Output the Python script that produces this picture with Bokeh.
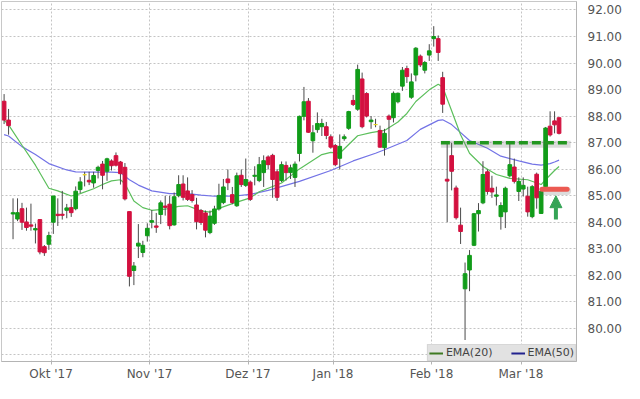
from bokeh.plotting import figure
from bokeh.models import (Range1d, FixedTicker, ColumnDataSource, Legend, LegendItem,
                          Arrow, NormalHead)
from bokeh.embed import file_html
from bokeh.resources import INLINE

# ---------------- data ----------------
opens = [88.56, 87.85, 84.31, 84.12, 84.51, 84.01, 83.90, 83.71, 84.10, 83.08,
         83.17, 84.00, 84.30, 84.30, 84.45, 84.55, 84.51, 85.23, 85.79, 85.58,
         85.48, 85.95, 86.19, 85.92, 86.31, 86.51, 86.27, 86.07, 84.40, 82.18,
         83.10, 82.86, 83.49, 84.00, 83.86, 84.29, 84.61, 84.68, 83.90, 85.00,
         85.44, 85.18, 85.04, 84.65, 84.44, 84.35, 83.61, 83.96, 84.50, 84.74,
         85.63, 85.04, 84.62, 85.77, 85.39, 85.51, 85.73, 85.57, 85.87, 86.46,
         86.52, 85.90, 85.57, 86.14, 85.87, 85.69, 86.59, 87.99, 88.56, 87.07,
         87.49, 87.60, 87.60, 87.22, 86.89, 86.41, 87.15, 87.54, 88.59, 88.26,
         89.40, 88.85, 87.79, 87.68, 87.46, 86.81, 88.00, 87.94, 88.54, 89.13,
         89.79, 88.71, 89.55, 90.26, 89.73, 90.30, 90.92, 90.92, 89.45, 85.62,
         86.51, 85.29, 83.89, 81.49, 82.20, 83.13, 84.32, 84.73, 85.90, 85.28,
         84.98, 84.21, 84.39, 85.75, 86.08, 85.16, 85.25, 84.98, 84.21, 85.81,
         84.33, 85.34, 87.62, 87.82, 87.94]
highs = [88.83, 88.27, 84.90, 84.90, 84.73, 84.55, 84.70, 83.95, 84.10, 83.14,
         83.64, 84.99, 84.90, 85.18, 84.69, 84.87, 85.35, 85.70, 85.90, 85.90,
         85.90, 86.13, 86.31, 86.43, 86.37, 86.63, 86.31, 86.23, 84.40, 82.50,
         83.93, 83.30, 83.96, 84.46, 84.35, 84.82, 85.00, 85.00, 85.12, 85.77,
         85.77, 85.69, 85.21, 84.92, 84.50, 84.44, 84.44, 84.62, 85.45, 85.63,
         85.99, 85.33, 85.87, 85.99, 86.40, 85.57, 86.11, 86.46, 86.52, 86.52,
         86.58, 86.00, 86.29, 86.29, 86.17, 86.29, 88.02, 89.10, 88.68, 87.66,
         88.14, 87.90, 87.78, 87.31, 86.95, 87.31, 87.31, 88.20, 88.80, 89.94,
         89.64, 88.90, 88.00, 87.90, 87.64, 87.52, 88.06, 88.93, 88.89, 89.85,
         89.90, 89.61, 90.60, 90.32, 90.08, 90.71, 91.39, 91.04, 89.67, 86.99,
         86.99, 85.38, 84.55, 82.48, 82.95, 84.35, 84.72, 86.30, 85.99, 85.75,
         85.34, 84.75, 85.34, 86.99, 86.40, 85.69, 85.69, 85.34, 85.40, 85.87,
         85.22, 87.59, 88.18, 88.18, 87.94]
lows = [87.70, 87.30, 83.36, 84.04, 83.71, 83.68, 83.68, 83.20, 82.79, 82.73,
        82.96, 83.56, 83.86, 84.10, 84.15, 84.20, 84.45, 85.10, 85.35, 85.40,
        85.30, 85.65, 85.24, 85.56, 85.95, 86.10, 85.42, 84.82, 81.58, 81.63,
        82.65, 82.68, 83.27, 83.77, 83.60, 83.93, 84.25, 83.73, 83.87, 84.94,
        84.82, 84.80, 84.74, 83.73, 83.90, 83.43, 83.55, 83.90, 84.44, 84.68,
        85.21, 84.68, 84.58, 85.33, 85.33, 84.80, 85.39, 85.51, 85.33, 85.99,
        84.92, 84.80, 85.51, 85.57, 85.63, 85.33, 86.29, 87.84, 87.37, 86.62,
        87.37, 87.25, 87.13, 86.77, 86.11, 85.99, 87.07, 87.48, 88.38, 88.20,
        87.54, 87.95, 87.52, 87.58, 86.81, 86.51, 86.99, 87.76, 88.48, 88.95,
        89.25, 88.65, 89.31, 89.85, 89.61, 90.08, 90.62, 90.08, 88.12, 84.00,
        85.20, 84.10, 83.18, 79.56, 81.40, 83.10, 83.65, 84.68, 85.04, 84.92,
        84.63, 83.72, 83.78, 85.69, 85.46, 84.80, 84.97, 84.21, 84.15, 84.51,
        84.31, 85.22, 87.23, 87.35, 87.31]
closes = [87.85, 87.64, 84.36, 84.36, 84.00, 83.80, 83.85, 83.76, 82.88, 82.85,
          83.50, 84.99, 84.25, 84.26, 84.54, 84.36, 85.17, 85.52, 85.79, 85.52,
          85.76, 86.07, 85.77, 86.39, 86.13, 86.15, 85.83, 84.88, 81.96, 82.35,
          83.21, 83.13, 83.77, 84.06, 83.81, 84.73, 84.56, 83.87, 84.96, 85.42,
          84.94, 84.86, 84.82, 84.02, 83.99, 83.70, 84.23, 84.50, 85.01, 85.33,
          85.49, 84.74, 85.75, 85.42, 85.61, 84.86, 85.77, 86.17, 86.32, 86.17,
          85.61, 84.94, 86.17, 85.87, 86.05, 86.19, 87.99, 88.54, 87.39, 87.37,
          87.72, 87.72, 87.27, 86.83, 86.17, 86.86, 87.22, 88.17, 88.44, 89.76,
          87.60, 88.00, 87.85, 87.68, 86.83, 87.35, 87.88, 88.86, 88.86, 89.73,
          89.49, 89.29, 90.56, 89.93, 90.02, 90.46, 91.00, 90.40, 88.45, 85.55,
          85.92, 84.17, 83.65, 82.06, 82.75, 84.32, 84.44, 85.80, 85.16, 85.14,
          85.03, 84.63, 85.28, 86.17, 85.54, 85.54, 85.39, 84.39, 85.34, 84.92,
          85.16, 87.55, 87.29, 87.67, 87.35]

month_labels = ["Okt '17", "Nov '17", "Dez '17", "Jan '18", "Feb '18", "Mar '18"]
month_first_idx = [11, 33, 55, 74, 96, 116]

ema20_idx = [0, 1, 4, 7, 10, 12, 15, 17, 20, 22, 24, 26, 27, 29, 31, 33, 36, 39,
             41, 44, 46, 48, 51, 55, 57, 62, 66, 71, 73, 75, 79, 82, 85, 88, 90,
             92, 95, 97, 98, 100, 102, 104, 107, 110, 113, 117, 120, 121, 122,
             123, 124]
ema20_val = [87.85, 87.67, 86.90, 86.15, 85.28, 85.18, 84.99, 85.08, 85.26, 85.42,
             85.56, 85.60, 85.45, 84.80, 84.55, 84.45, 84.49, 84.60, 84.62, 84.43,
             84.38, 84.52, 84.70, 84.92, 85.15, 85.48, 86.01, 86.55, 86.63, 86.60,
             87.26, 87.38, 87.46, 87.78, 88.10, 88.55, 88.99, 89.20, 89.10, 88.20,
             87.30, 86.60, 86.10, 85.80, 85.65, 85.60, 85.42, 85.60, 85.78, 85.95,
             86.10]
ema50_idx = [0, 1, 4, 7, 10, 14, 16, 20, 24, 26, 28, 30, 33, 37, 41, 44, 47, 51,
             55, 59, 66, 73, 78, 83, 85, 90, 93, 97, 98, 100, 104, 108, 111, 115,
             118, 120, 122, 123, 124]
ema50_val = [87.30, 87.25, 86.85, 86.55, 86.21, 85.97, 85.90, 85.89, 85.89, 85.87,
             85.60, 85.40, 85.18, 85.08, 85.08, 85.02, 84.98, 84.98, 85.05, 85.20,
             85.54, 85.95, 86.31, 86.60, 86.73, 87.08, 87.50, 87.84, 87.86, 87.68,
             87.08, 86.79, 86.49, 86.31, 86.19, 86.15, 86.21, 86.27, 86.34]

y_ticks = list(range(79, 93))
resistance_level = 87.0
resistance_span = [97.6, 126.6]
support_level = 85.24
support_span = [120.2, 125.8]
arrow_x = 123.3
arrow_from = 84.1
arrow_to = 85.0

# ---------------- colours ----------------
UP = "#119c19"
DOWN = "#d3103f"
DOJI = "#e6d21e"

n = len(closes)
idx = list(range(n))
colors = [UP if c > o else (DOWN if c < o else DOJI) for o, c in zip(opens, closes)]
src = ColumnDataSource(dict(
    idx=idx, open=opens, high=highs, low=lows, close=closes,
    top=[max(o, c) for o, c in zip(opens, closes)],
    bottom=[min(o, c) for o, c in zip(opens, closes)],
    color=colors))

p = figure(width=624, height=383, output_backend="svg", toolbar_location=None,
           x_range=Range1d(-0.58, 127.9), y_range=Range1d(78.75, 92.32),
           y_axis_location="right", min_border_left=1, min_border_top=1,
           min_border_right=41, min_border_bottom=19)
p.outline_line_color = "#c8c8c8"
p.background_fill_color = "white"

# grids
month_ticks = [i - 0.5 for i in month_first_idx]
p.xaxis.ticker = FixedTicker(ticks=month_ticks)
p.xaxis.major_label_overrides = {t: lab for t, lab in zip(month_ticks, month_labels)}
p.yaxis.ticker = FixedTicker(ticks=y_ticks)
p.yaxis.major_label_overrides = {t: ("" if t == 79 else f"{t:.2f}") for t in y_ticks}
for g in (p.xgrid, p.ygrid):
    g.grid_line_color = "#c4c4c4"
    g.grid_line_dash = "2 2"
    g.grid_line_width = 1

for ax in (p.xaxis, p.yaxis):
    ax.axis_line_color = "#b4b4b4"
    ax.minor_tick_line_color = None
    ax.major_label_text_font = "DejaVu Sans"
    ax.major_label_text_font_size = "12px"
    ax.major_label_text_color = "#555555"
p.yaxis.major_tick_line_color = None
p.yaxis.major_label_standoff = 5
p.xaxis.major_tick_line_color = "#b4b4b4"
p.xaxis.major_tick_out = 3
p.xaxis.major_tick_in = 0
p.xaxis.major_label_standoff = 2

# EMA lines
p.line(ema50_idx, ema50_val, color="#7373e6", line_width=1.2)
p.line(ema20_idx, ema20_val, color="#5cbf5c", line_width=1.2)

# candles
p.segment(x0="idx", y0="low", x1="idx", y1="high", color="#4a4a4a", line_width=1, source=src)
p.vbar(x="idx", width=0.82, top="top", bottom="bottom", fill_color="color",
       line_color="color", line_width=1, source=src)

# resistance dashed line with shadow
p.segment(x0=[resistance_span[0]], y0=[resistance_level - 0.06], x1=[resistance_span[1]],
          y1=[resistance_level - 0.06], color="#606060", alpha=0.22, line_width=7)
p.segment(x0=[resistance_span[0]], y0=[resistance_level], x1=[resistance_span[1]],
          y1=[resistance_level], color="#22961f", line_width=3.5, line_dash="9 4")

# support marker with shadow
p.segment(x0=[support_span[0]], y0=[support_level - 0.06], x1=[support_span[1]],
          y1=[support_level - 0.06], color="#606060", alpha=0.22, line_width=8, line_cap="round")
p.segment(x0=[support_span[0]], y0=[support_level], x1=[support_span[1]],
          y1=[support_level], color="#ec5a52", line_width=5, line_cap="round")

# arrow
p.add_layout(Arrow(end=NormalHead(size=12, fill_color="#35a456", line_color="#35a456"),
                   x_start=arrow_x, y_start=arrow_from, x_end=arrow_x, y_end=arrow_to,
                   line_color="#35a456", line_width=4))

# legend (single-point line renderers: invisible on the plot, styled for the legend)
r20 = p.line(x=[idx[-1]], y=[ema20_val[-1]], color="#3f7a22", line_width=2)
r50 = p.line(x=[idx[-1]], y=[ema50_val[-1]], color="#22228f", line_width=2)
legend = Legend(items=[LegendItem(label="EMA(20)", renderers=[r20]),
                       LegendItem(label="EMA(50)", renderers=[r50])],
                orientation="horizontal", location="bottom_right",
                background_fill_color="#e2e2e2", background_fill_alpha=1.0,
                border_line_color="#cccccc", label_text_font="DejaVu Sans",
                label_text_font_size="11px", label_text_color="#444444",
                glyph_width=14, glyph_height=10, label_standoff=3, spacing=18,
                padding=1, margin=0, label_height=12)
p.add_layout(legend)

open("out.html", "w").write(file_html(p, INLINE))
